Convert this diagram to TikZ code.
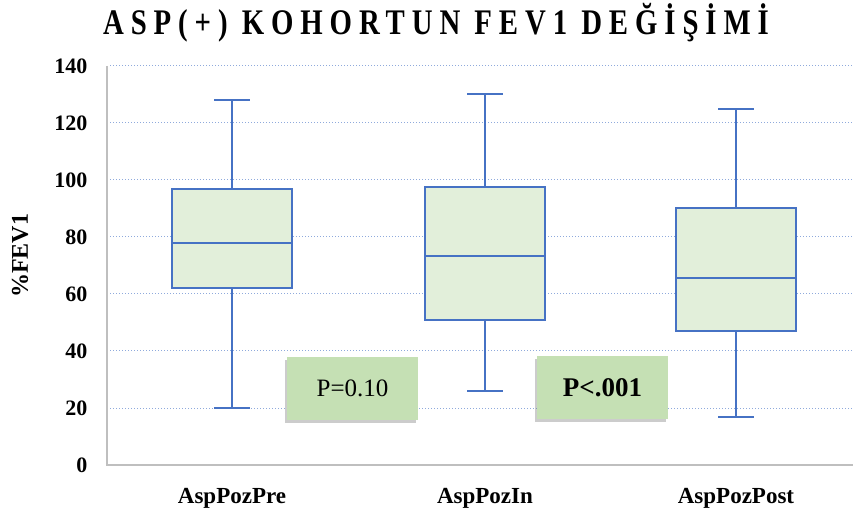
\documentclass[tikz,border=0pt]{standalone}
\usepackage{fontspec}
\setmainfont{Liberation Serif}
\newfontfamily\titlefont[LetterSpace=24]{Liberation Serif}
\usetikzlibrary{shadows}

\definecolor{boxblue}{RGB}{70,114,196}
\definecolor{boxfill}{RGB}{226,239,218}
\definecolor{pgreen}{RGB}{197,224,180}
\definecolor{gridblue}{RGB}{143,170,220}
\definecolor{axisgray}{RGB}{191,191,191}

\tikzset{
  gridline/.style={gridblue, line width=1pt, dotted},
  axisline/.style={axisgray, line width=2.5pt},
  whisk/.style={boxblue, line width=2pt},
  quart/.style={draw=boxblue, fill=boxfill, line width=2pt},
  pbox/.style={fill=pgreen, minimum width=131pt, minimum height=62pt,
    drop shadow={shadow xshift=-2pt, shadow yshift=-3pt, opacity=.4}},
  ticklab/.style={anchor=east, font=\fontsize{22}{22}\selectfont\bfseries},
  catlab/.style={anchor=base, font=\fontsize{23}{23}\selectfont\bfseries}
}

\begin{document}
\begin{tikzpicture}[x=1pt, y=1pt]
  \useasboundingbox (0, 0) rectangle (853, 514);

  %% title
  \node[anchor=base] (title) at (436, 479) {\scalebox{0.8}[1]{\titlefont\fontsize{36}{36}\selectfont\bfseries ASP(+) KOHORTUN FEV1 DEĞİŞİMİ}};
  \node[rotate=90, font=\fontsize{24}{24}\selectfont\bfseries] (ylab) at (20, 258) {\%FEV1};

  \begin{scope}[yshift=49pt, y=2.85pt]
    %% grid
    \foreach \v in {20, 40, ..., 140}{
      \draw[gridline] (110, \v) to (853, \v);
      \node[ticklab] (t\v) at (91, \v) {\v};
    }
    \node[ticklab] (t0) at (91, 0) {0};
    \draw[axisline] (107, 140) to (107, 0) to (853, 0);

    %% AspPozPre
    \draw[whisk] (232, 20) to (232, 128);
    \draw[whisk] (214, 128) to (250, 128);
    \draw[whisk] (214, 20) to (250, 20);
    \draw[quart] (172, 62) rectangle (292, 97);
    \draw[whisk] (172, 78) to (292, 78);

    %% AspPozIn
    \draw[whisk] (485, 26) to (485, 130);
    \draw[whisk] (467, 130) to (503, 130);
    \draw[whisk] (467, 26) to (503, 26);
    \draw[quart] (425, 51) rectangle (545, 97.5);
    \draw[whisk] (425, 73.5) to (545, 73.5);

    %% AspPozPost
    \draw[whisk] (736, 17) to (736, 125);
    \draw[whisk] (718, 125) to (754, 125);
    \draw[whisk] (718, 17) to (754, 17);
    \draw[quart] (676, 47) rectangle (796, 90);
    \draw[whisk] (676, 65.5) to (796, 65.5);
  \end{scope}

  %% p values
  \node[pbox, font=\fontsize{25}{25}\selectfont] (p1) at (352.5, 125.5) {P=0.10};
  \node[pbox, font=\fontsize{27}{27}\selectfont\bfseries] (p2) at (602.5, 126.5) {P<.001};

  %% categories
  \node[catlab] (c1) at (232, 11) {AspPozPre};
  \node[catlab] (c2) at (485, 11) {AspPozIn};
  \node[catlab] (c3) at (736, 11) {AspPozPost};
\end{tikzpicture}
\end{document}
